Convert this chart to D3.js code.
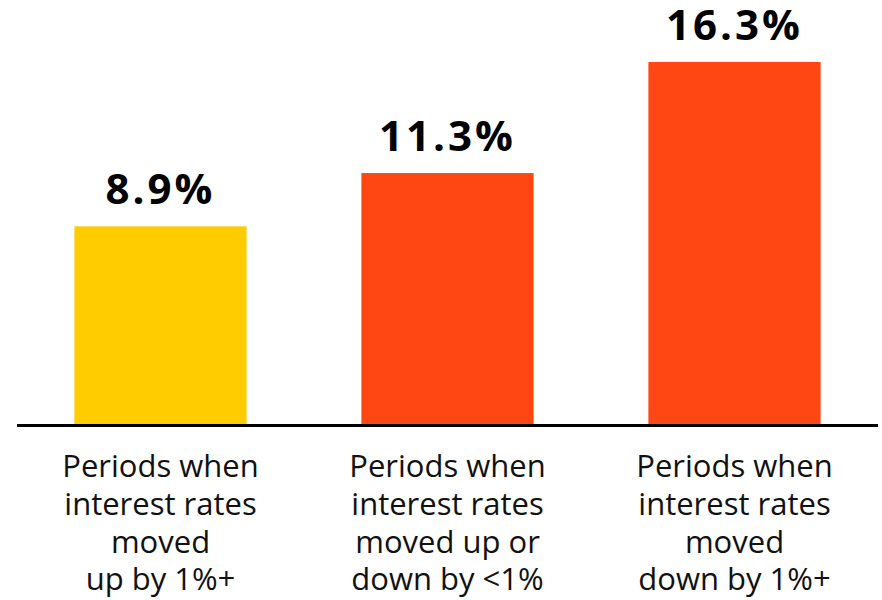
<!DOCTYPE html>
<html>
<head>
<meta charset="utf-8">
<script src="https://cdn.jsdelivr.net/npm/d3@7"></script>
<style>
  body { margin: 0; background: #fff; }
  svg { display: block; font-family: "Open Sans", sans-serif; }
</style>
</head>
<body>
<svg id="chart" width="882" height="600"></svg>
<script>
var categories = ['up', 'mixed', 'down']
var values = [8.9, 11.3, 16.3]
var valueLabels = ['8.9%', '11.3%', '16.3%']
var catLabels = [
  ['Periods when', 'interest rates', 'moved', 'up by 1%+'],
  ['Periods when', 'interest rates', 'moved up or', 'down by <1%'],
  ['Periods when', 'interest rates', 'moved', 'down by 1%+']
]
var colors = ['#ffcc00', '#ff4713', '#ff4713']

var data = categories.map((d, i) => ({key: d, v: values[i], label: valueLabels[i], cat: catLabels[i], color: colors[i]}))

var svg = d3.select('#chart')
var baseY = 424

var x = d3.scaleBand().domain(categories).range([17, 878]).paddingInner(0.4).paddingOuter(0.2)
var y = d3.scaleLinear().domain([0, 16.3]).range([baseY, 62])

svg.selectAll('rect.bar').data(data).join('rect')
  .attr('class', 'bar')
  .attr('x', d => x(d.key))
  .attr('width', x.bandwidth())
  .attr('y', d => y(d.v))
  .attr('height', d => y(0) - y(d.v))
  .attr('fill', d => d.color)

// baseline
svg.append('line')
  .attr('x1', x.range()[0]).attr('x2', x.range()[1])
  .attr('y1', baseY + 1.5).attr('y2', baseY + 1.5)
  .attr('stroke', '#000').attr('stroke-width', 3)

svg.selectAll('text.val').data(data).join('text')
  .attr('class', 'val')
  .attr('x', d => x(d.key) + x.bandwidth()/2)
  .attr('y', d => y(d.v) - 22)
  .attr('text-anchor', 'middle')
  .attr('font-size', 42)
  .attr('font-weight', 700)
  .attr('letter-spacing', 3)
  .attr('fill', '#000')
  .text(d => d.label)

var catG = svg.selectAll('g.cat').data(data).join('g')
  .attr('class', 'cat')
  .attr('transform', d => `translate(${x(d.key) + x.bandwidth()/2}, 477)`)

catG.selectAll('text').data(d => d.cat).join('text')
  .attr('y', (d, i) => i*37.8)
  .attr('text-anchor', 'middle')
  .attr('font-size', 31)
  .attr('fill', '#111')
  .text(d => d)
</script>
</body>
</html>
